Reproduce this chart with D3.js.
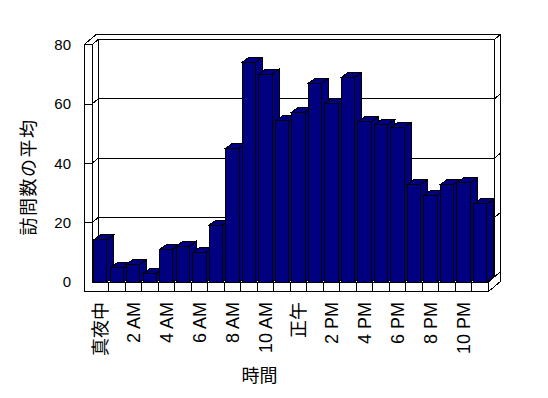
<!DOCTYPE html>
<html>
<head>
<meta charset="utf-8">
<script src="https://cdn.jsdelivr.net/npm/d3@7"></script>
<style>
  body { margin: 0; background: #fff; }
  text { font-family: "Liberation Sans", "Noto Sans CJK JP", sans-serif; fill: #000; }
</style>
</head>
<body>
<svg id="chart" width="548" height="398"></svg>
<script>
var hours = ['真夜中', '1 AM', '2 AM', '3 AM', '4 AM', '5 AM', '6 AM', '7 AM', '8 AM', '9 AM', '10 AM', '11 AM',
  '正午', '1 PM', '2 PM', '3 PM', '4 PM', '5 PM', '6 PM', '7 PM', '8 PM', '9 PM', '10 PM', '11 PM'];
var visits = [14.2, 4.8, 6, 2.9, 11, 12.1, 10, 19.2, 45.1, 74.1, 70.1, 54.3,
  57.3, 67, 60.2, 69, 54, 53, 52.1, 32.9, 29.2, 32.9, 33.5, 26.3];
var yTicks = [0, 20, 40, 60, 80];
var gridValues = [20, 40, 60];
var yTitle = '訪問数の平均';
var xTitle = '時間';

var svg = d3.select('#chart');

// front plane of the box, plus the oblique offset used for depth
var wallLeft = 84, plotLeft = 92, plotRight = 488.3, floorBottom = 291.7;
var DX = 6.2, DY = -5.2;      // one wall-depth step
var BDX = 7, BDY = -5;        // column depth

var x = d3.scaleBand()
  .domain(d3.range(hours.length))
  .range([plotLeft, plotRight])
  .paddingInner(0.19)
  .paddingOuter(0.095);

var y = d3.scaleLinear().domain([0, 80]).range([282, 44.7]);

var yTop = y(80), yBase = y(0);
var line = d3.line();

function boundary(i) {
  return x.range()[0] + i * x.step();
}

var box = svg.append('g')
  .attr('fill', 'none')
  .attr('stroke', '#000')
  .attr('stroke-width', 1)
  .attr('shape-rendering', 'crispEdges');

// outer silhouette of walls and floor
box.append('path')
  .attr('fill', '#fff')
  .attr('d', line([
    [wallLeft, yTop], [wallLeft + 2 * DX, yTop + 2 * DY],
    [plotRight + 2 * DX, yTop + 2 * DY], [plotRight + 2 * DX, floorBottom + 2 * DY],
    [plotRight, floorBottom], [wallLeft, floorBottom]
  ]) + 'Z');

var edges = [
  [[wallLeft, yTop], [plotLeft, yTop]],
  [[plotLeft, yTop], [plotLeft, yBase]],
  [[plotLeft, yTop], [plotLeft + DX, yTop + DY], [plotRight + DX, yTop + DY], [plotRight + 2 * DX, yTop + 2 * DY]],
  [[plotLeft + DX, yTop + DY], [plotLeft + DX, yBase + DY]],
  [[plotRight + DX, yTop + DY], [plotRight + DX, yBase + DY], [plotRight + 2 * DX, yBase + 2 * DY]],
  [[plotLeft, yBase], [plotRight, yBase], [plotRight + DX, yBase + DY]],
  [[plotLeft, yBase], [plotLeft + DX, yBase + DY], [plotRight + DX, yBase + DY]],
  [[plotRight, yBase], [plotRight, floorBottom]]
];

box.selectAll('path.edge')
  .data(edges)
  .enter().append('path')
  .attr('class', 'edge')
  .attr('d', function(d) { return line(d); });

// gridlines on the back wall, with their ticks across the side walls
box.selectAll('path.grid')
  .data(gridValues)
  .enter().append('path')
  .attr('class', 'grid')
  .attr('d', function(v) {
    var yy = y(v);
    return line([[wallLeft, yy], [plotLeft, yy], [plotLeft + DX, yy + DY],
      [plotRight + DX, yy + DY], [plotRight + 2 * DX, yy + 2 * DY]]);
  });

// category ticks on the floor front
box.selectAll('line.tick')
  .data(d3.range(1, hours.length))
  .enter().append('line')
  .attr('class', 'tick')
  .attr('x1', boundary).attr('x2', boundary)
  .attr('y1', yBase).attr('y2', floorBottom);

// columns, drawn left to right so each one covers its neighbour's side
var bars = svg.append('g')
  .attr('fill', '#000080')
  .attr('stroke', '#000')
  .attr('stroke-width', 1)
  .attr('shape-rendering', 'crispEdges')
  .selectAll('g.bar')
  .data(visits)
  .enter().append('g')
  .attr('class', 'bar');

bars.append('path').attr('d', function(v, i) {
  var xl = x(i), xr = xl + x.bandwidth(), yt = y(v);
  return line([[xr, yt], [xr + BDX, yt + BDY], [xr + BDX, yBase + BDY], [xr, yBase]]) + 'Z';
});
bars.append('path').attr('d', function(v, i) {
  var xl = x(i), xr = xl + x.bandwidth(), yt = y(v);
  return line([[xl, yt], [xl + BDX, yt + BDY], [xr + BDX, yt + BDY], [xr, yt]]) + 'Z';
});
bars.append('rect')
  .attr('x', function(v, i) { return x(i); })
  .attr('y', function(v) { return y(v); })
  .attr('width', x.bandwidth())
  .attr('height', function(v) { return yBase - y(v); });

// value axis labels
var yAxis = svg.append('g')
  .attr('transform', 'translate(74,0)')
  .call(d3.axisLeft(y).tickValues(yTicks).tickSize(0).tickPadding(3));
yAxis.select('.domain').remove();
yAxis.selectAll('text')
  .style('font-family', '"Liberation Sans", sans-serif')
  .style('font-size', '15px');

// hour labels, every second category, rotated
svg.append('g')
  .selectAll('text')
  .data(d3.range(0, hours.length, 2))
  .enter().append('text')
  .attr('transform', function(i) {
    return 'translate(' + (x(i) + x.bandwidth() / 2) + ',302) rotate(-90)';
  })
  .attr('text-anchor', 'end')
  .attr('dy', '0.36em')
  .style('font-size', '18px')
  .text(function(i) { return hours[i]; });

svg.append('text')
  .attr('transform', 'translate(29,177) rotate(-90)')
  .attr('text-anchor', 'middle')
  .attr('dy', '0.36em')
  .style('font-size', '18px')
  .style('letter-spacing', '1.5px')
  .text(yTitle);

svg.append('text')
  .attr('x', 259.5)
  .attr('y', 382)
  .attr('text-anchor', 'middle')
  .style('font-size', '18px')
  .text(xTitle);
</script>
</body>
</html>
